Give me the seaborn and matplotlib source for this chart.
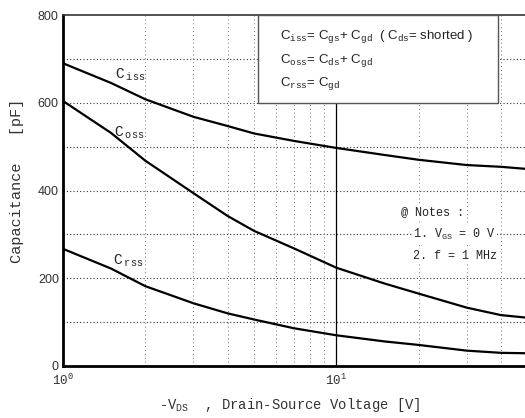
import matplotlib
matplotlib.use("Agg")
import matplotlib.pyplot as plt
from matplotlib.patches import Rectangle
from matplotlib.ticker import FixedLocator, NullFormatter
import pandas as pd
import seaborn as sns

# ---- data ----
vds = [1, 1.5, 2, 3, 4, 5, 7, 10, 15, 20, 30, 40, 50]
ciss = [690, 645, 608, 568, 547, 530, 513, 497, 481, 470, 458, 454, 449]
coss = [604, 531, 468, 394, 342, 308, 268, 224, 188, 165, 133, 116, 110]
crss = [267, 222, 182, 143, 120, 106, 86, 70, 56, 48, 35, 30, 29]
series_names = ["Ciss", "Coss", "Crss"]
y_ticks = [0, 200, 400, 600, 800]
x_tick_labels = [r"$10^0$", r"$10^1$"]

df = pd.DataFrame({
    "vds": vds * 3,
    "cap": ciss + coss + crss,
    "series": sum([[n] * len(vds) for n in series_names], []),
})

sns.set_theme(style="white")
plt.rcParams["font.family"] = ["Liberation Mono", "DejaVu Sans"]
plt.rcParams["mathtext.fontset"] = "custom"
plt.rcParams["mathtext.rm"] = "Liberation Mono"
plt.rcParams["mathtext.tt"] = "Liberation Mono"
plt.rcParams["mathtext.it"] = "Liberation Mono"

fig = plt.figure(figsize=(5.25, 4.18), dpi=100)
ax = fig.add_axes([63 / 525, 52 / 418, 1 - 63 / 525, (366 - 15) / 418])

sns.lineplot(data=df, x="vds", y="cap", hue="series",
             palette=["black"] * 3, linewidth=1.6, legend=False, ax=ax,
             zorder=3)

ax.set_xscale("log")
ax.set_xlim(1, 49)
ax.set_ylim(0, 800)

# grid
for v in range(100, 800, 100):
    ax.axhline(v, color="#333333", lw=0.8, ls=(0, (1, 2)), zorder=1)
for v in [2, 3, 4, 5, 6, 7, 8, 9, 20, 30, 40]:
    ax.axvline(v, color="#777777", lw=0.7, ls=(0, (1, 3)), zorder=1)
ax.axvline(10, color="black", lw=0.9, zorder=1)

ax.set_yticks(y_ticks)
ax.set_xticks([1, 10])
ax.set_xticklabels(x_tick_labels)
ax.xaxis.set_minor_locator(FixedLocator([2, 3, 4, 5, 6, 7, 8, 9, 20, 30, 40]))
ax.xaxis.set_minor_formatter(NullFormatter())
ax.tick_params(axis="both", which="both", length=0, labelsize=9)
ax.tick_params(axis="y", pad=3)
ax.tick_params(axis="x", pad=5)
for lab in ax.get_yticklabels() + ax.get_xticklabels():
    lab.set_family(["Liberation Sans Narrow", "Liberation Sans", "DejaVu Sans"])
    lab.set_color("#333333")

for s in ["left", "bottom"]:
    ax.spines[s].set_linewidth(2.0)
    ax.spines[s].set_color("black")
ax.spines["top"].set_linewidth(1.2)
ax.spines["top"].set_color("#333333")
ax.spines["right"].set_visible(False)

ax.set_ylabel("Capacitance   [pF]", fontsize=11, color="#333333")
ax.yaxis.set_label_coords(-0.084, 0.527)
ax.set_xlabel(r"-V$_{\rm DS}$  , Drain-Source Voltage [V]", fontsize=10,
              color="#333333")
ax.xaxis.set_label_coords(0.491, -0.085)

# curve labels
lab_kw = dict(fontsize=10.5, color="#222222", zorder=4)
ax.text(1.55, 654, r"C$_{\ \rm iss}$", **lab_kw)
ax.text(1.54, 522, r"C$_{\ \rm oss}$", **lab_kw)
ax.text(1.53, 231, r"C$_{\ \rm rss}$", **lab_kw)

# definition box
rect = Rectangle((5.18, 600), 38.9 - 5.18, 200, facecolor="white",
                 edgecolor="#555555", lw=1.0, zorder=5)
ax.add_patch(rect)
box_kw = dict(fontsize=9.5, color="#222222", zorder=6, va="center",
              family=["Liberation Sans Narrow", "Liberation Sans", "DejaVu Sans"])
ax.text(6.2, 750, r"C$_{\rm iss}$= C$_{\rm gs}$+ C$_{\rm gd}$  ( C$_{\rm ds}$= shorted )", **box_kw)
ax.text(6.2, 697, r"C$_{\rm oss}$= C$_{\rm ds}$+ C$_{\rm gd}$", **box_kw)
ax.text(6.2, 644, r"C$_{\rm rss}$= C$_{\rm gd}$", **box_kw)

# notes
note_kw = dict(fontsize=8.5, color="#222222", zorder=6, va="center",
               bbox=dict(facecolor="white", edgecolor="none", pad=1))
ax.text(17.2, 350, "@ Notes :", **note_kw)
ax.text(19.1, 300, r"1. V$_{\rm GS}$ = 0 V", **note_kw)
ax.text(19.1, 250, "2. f = 1 MHz", **note_kw)

fig.savefig("out.png", dpi=100)
